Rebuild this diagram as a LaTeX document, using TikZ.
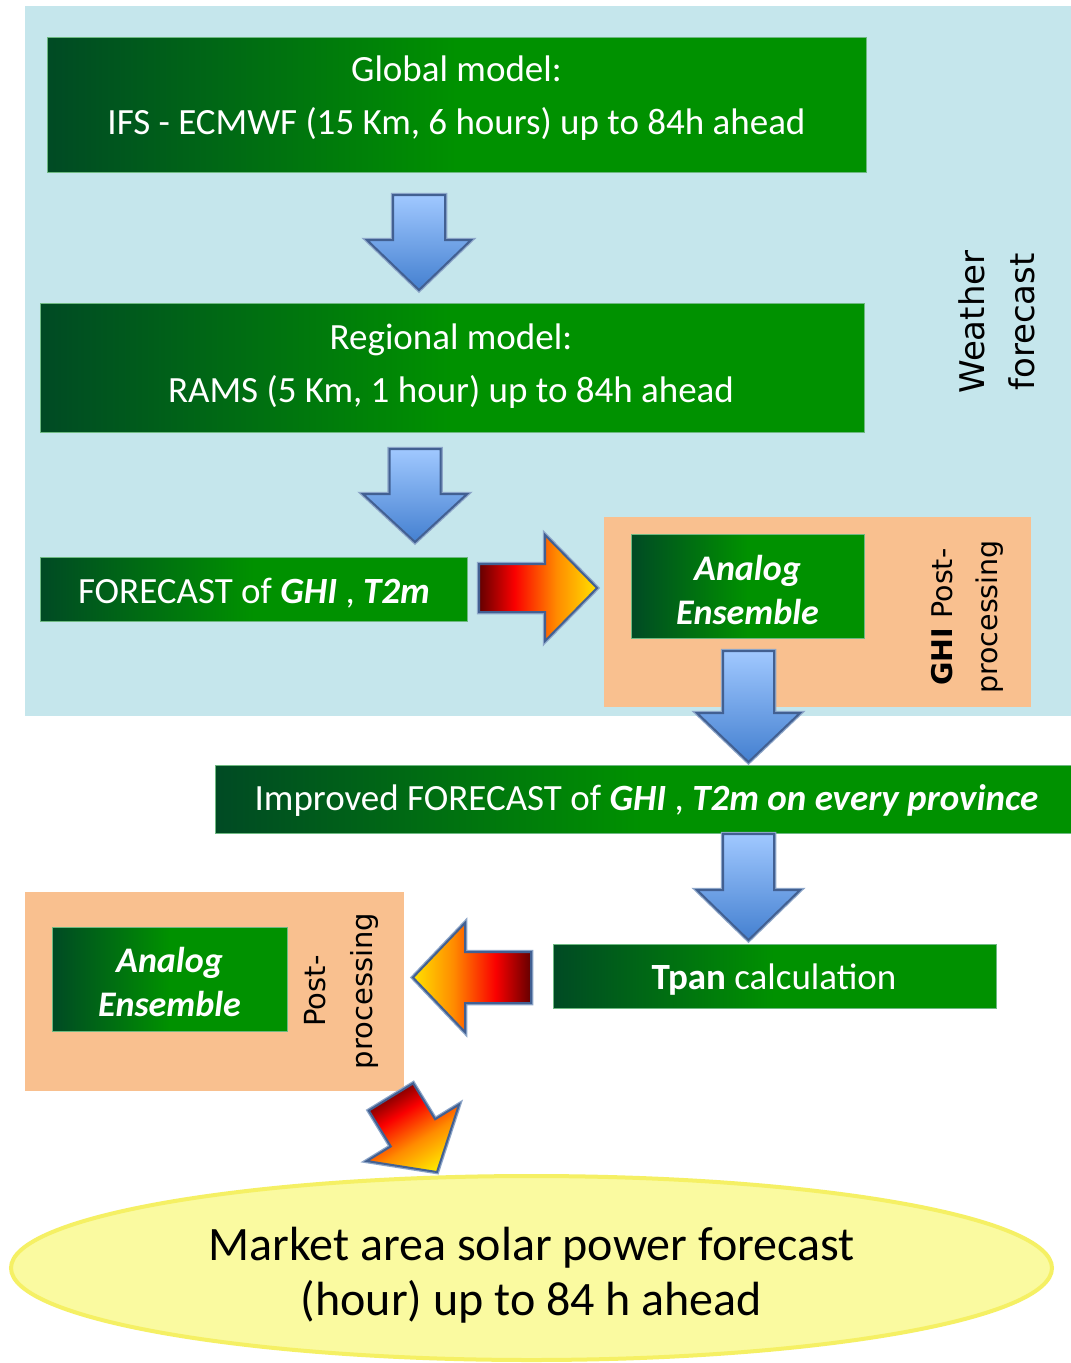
\documentclass[tikz,border=0pt]{standalone}
\usepackage{fontspec}
\setmainfont{Carlito}
\newfontfamily\verdfont{DejaVu Sans}
\usetikzlibrary{shapes.geometric}
\definecolor{bgblue}{RGB}{197,230,236}
\definecolor{boxorange}{RGB}{249,192,143}
\definecolor{dkgreen}{RGB}{0,74,36}
\definecolor{brgreen}{RGB}{0,145,0}
\definecolor{gborder}{RGB}{110,185,130}
\definecolor{arrtop}{RGB}{160,200,255}
\definecolor{arrbot}{RGB}{68,128,208}
\definecolor{arrowborder}{RGB}{66,96,146}
\definecolor{arrowglow}{RGB}{140,165,200}
\definecolor{fireA}{RGB}{100,0,0}
\definecolor{fireB}{RGB}{250,0,0}
\definecolor{fireC}{RGB}{255,140,0}
\definecolor{fireD}{RGB}{255,225,0}
\definecolor{ellfill}{RGB}{250,250,160}
\definecolor{ellborder}{RGB}{245,240,100}
\pgfdeclarehorizontalshading{fire}{100bp}{color(0bp)=(fireA); color(25bp)=(fireA); color(40bp)=(fireB); color(58bp)=(fireC); color(75bp)=(fireD); color(100bp)=(fireD)}
% #1 style, #2 x, #3 y (tail centre), #4 angle, #5 length, #6 shaft half width, #7 head half width, #8 head length
\newcommand{\blockarrow}[8]{%
  \begin{scope}[shift={(#2,#3)}, rotate=#4]
    \path[#1] (0,-#6) -- ({#5-#8},-#6) -- ({#5-#8},-#7) -- (#5,0) -- ({#5-#8},#7) -- ({#5-#8},#6) -- (0,#6) -- cycle;
  \end{scope}}
\begin{document}
\begin{tikzpicture}[x=1pt,y=-1pt,
  gbox/.style={draw=gborder, line width=0.8pt, left color=dkgreen, right color=brgreen, middle color=brgreen, inner sep=0pt},
  obox/.style={fill=boxorange, inner sep=0pt},
  wtext/.style={text=white, align=center, inner sep=0pt, yshift=-3pt, font=\fontsize{37}{53}\selectfont},
  aetext/.style={text=white, align=center, inner sep=0pt, yshift=-2pt, font=\fontsize{36}{44}\selectfont\bfseries\itshape},
  vtext/.style={rotate=90, align=center, inner sep=0pt, text=black},
  bluearrow/.style={preaction={draw=arrowglow, line width=4.5pt, line join=miter}, top color=arrtop, bottom color=arrbot, draw=arrowborder, line width=2pt, line join=miter},
  firearrow/.style={preaction={draw=arrowglow, line width=4.5pt, line join=miter}, shading=fire, draw=arrowborder, line width=2pt, line join=miter}
]
\fill[white] (0,0) rectangle (1071,1363);
\useasboundingbox (0,0) rectangle (1071,1363);

% weather forecast background
\node[fill=bgblue, minimum width=1046pt, minimum height=710pt, inner sep=0pt] (weather) at (548,361) {};
\node[vtext, font=\verdfont\fontsize{34}{50}\selectfont] (weathertxt) at (997,322) {Weather\\forecast};

% global model
\node[gbox, minimum width=819pt, minimum height=135pt] (global) at (456.5,104.5) {};
\node[wtext] (globaltxt) at (456.5,95.5) {Global model:\\IFS - ECMWF (15 Km, 6 hours) up to 84h ahead};

% regional model
\node[gbox, minimum width=824pt, minimum height=129pt] (regional) at (452,367.5) {};
\node[wtext] (regionaltxt) at (451,363.5) {Regional model:\\RAMS (5 Km, 1 hour) up to 84h ahead};

% forecast
\node[gbox, minimum width=427pt, minimum height=64pt] (forecast) at (253.5,589) {};
\node[wtext] (forecasttxt) at (254,590) {FORECAST of \textbf{\textit{GHI}} , \textbf{\textit{T2m}}};

% GHI post-processing
\node[obox, minimum width=427pt, minimum height=190pt] (ghipp) at (817.5,612) {};
\node[gbox, minimum width=233pt, minimum height=104pt] (ae1) at (747.5,586) {};
\node[aetext] (ae1txt) at (747.5,588) {Analog\\Ensemble};
\node[vtext, font=\verdfont\fontsize{28.5}{45}\selectfont] (ghipptxt) at (967.5,617) {\textbf{GHI} Post-\\processing};

% improved forecast
\node[gbox, minimum width=856pt, minimum height=68pt] (improved) at (643,799) {};
\node[wtext] (improvedtxt) at (646.5,797) {Improved FORECAST of \textbf{\textit{GHI}} , \textbf{\textit{T2m on every province}}};

% Tpan
\node[gbox, minimum width=443pt, minimum height=64pt] (tpan) at (774.5,976) {};
\node[wtext] (tpantxt) at (774,977) {\textbf{Tpan} calculation};

% post-processing (left)
\node[obox, minimum width=379pt, minimum height=199pt] (pp) at (214.5,991.5) {};
\node[gbox, minimum width=235pt, minimum height=104pt] (ae2) at (169.5,979) {};
\node[aetext] (ae2txt) at (169.5,980) {Analog\\Ensemble};
\node[vtext, font=\verdfont\fontsize{29}{47}\selectfont] (pptxt) at (341.5,991) {Post-\\processing};

% market ellipse
\node[ellipse, draw=ellborder, line width=4pt, fill=ellfill, minimum width=1041pt, minimum height=184pt, inner sep=0pt] (market) at (531.5,1268) {};
\node[align=center, inner sep=0pt, yshift=-3pt, font=\fontsize{48}{55}\selectfont] (markettxt) at (531.5,1272) {Market area solar power forecast\\(hour) up to 84 h ahead};

% block arrows
\blockarrow{bluearrow}{419}{195}{-90}{95}{26}{52}{50}
\blockarrow{bluearrow}{415}{449}{-90}{93}{25.5}{52}{48}
\blockarrow{bluearrow}{748.5}{651}{-90}{111}{25.5}{51.5}{49}
\blockarrow{bluearrow}{748.5}{834}{-90}{106}{25.5}{51.5}{50}
\blockarrow{firearrow, shading angle=0}{479}{588}{0}{118}{24}{53}{52}
\blockarrow{firearrow, shading angle=180}{531}{977.5}{180}{118}{25.5}{54.5}{52}
\blockarrow{firearrow, shading angle=-58.5}{391}{1097}{-58.5}{88}{26}{54}{46}
\end{tikzpicture}
\end{document}
